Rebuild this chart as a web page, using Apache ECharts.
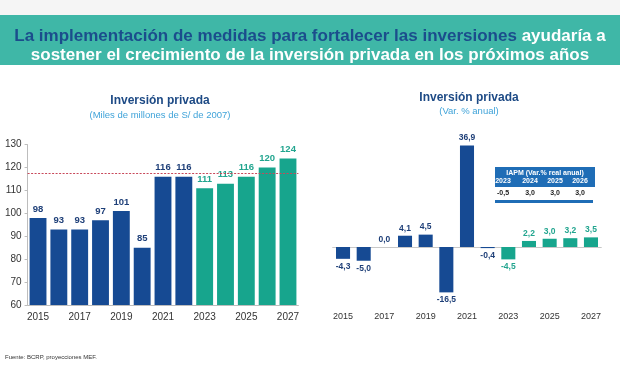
<!DOCTYPE html>
<html><head><meta charset="utf-8">
<script src="https://cdn.jsdelivr.net/npm/echarts@6/dist/echarts.min.js"></script>
<style>html,body{margin:0;padding:0;background:#fff}#c{width:620px;height:365px}</style>
</head><body><div id="c"></div>
<script>
// ---- data ----
const years = ['2015','2016','2017','2018','2019','2020','2021','2022','2023','2024','2025','2026','2027'];
const levelValues = [98, 93, 93, 97, 101, 85, 116, 116, 111, 113, 116, 120, 124];
const growthValues = [-4.3, -5.0, 0.0, 4.1, 4.5, -16.5, 36.9, -0.4, -4.5, 2.2, 3.0, 3.2, 3.5];
const referenceLevel = 117.5;
const firstProjectionYear = '2023';
const iapmYears = ['2023', '2024', '2025', '2026'];
const iapmValues = ['-0,5', '3,0', '3,0', '3,0'];

// ---- styles ----
const BLUE = '#164a93', TEAL = '#17a58d', BLUE_LBL = '#1e3f78', TEAL_LBL = '#22a58f';
const FONT = 'Liberation Sans, Arial, sans-serif';
const isProj = y => y >= firstProjectionYear;

const levelData = years.map((y, i) => ({
  value: levelValues[i],
  itemStyle: { color: isProj(y) ? TEAL : BLUE },
  label: { color: isProj(y) ? TEAL_LBL : BLUE_LBL }
}));
const growthData = years.map((y, i) => ({
  value: growthValues[i],
  itemStyle: { color: isProj(y) ? TEAL : BLUE },
  label: { color: isProj(y) ? TEAL_LBL : BLUE_LBL, position: growthValues[i] < 0 ? 'bottom' : 'top' }
}));
const fmtComma = p => Number(p.value).toFixed(1).replace('.', ',');

// table graphic
const tblX = 495, tblW = 100, colX = [503, 530, 555, 580];
const tableEls = [
  { type: 'rect', shape: { x: tblX, y: 167, width: tblW, height: 20 }, style: { fill: '#1f6db6' } },
  { type: 'rect', shape: { x: tblX, y: 200, width: tblW - 2, height: 3 }, style: { fill: '#1f6db6' } },
  { type: 'text', x: tblX + tblW / 2, y: 173, style: { text: 'IAPM (Var.% real anual)', fill: '#fff', font: 'bold 7px ' + FONT, align: 'center', verticalAlign: 'middle' } }
];
iapmYears.forEach((y, i) => tableEls.push({ type: 'text', x: colX[i], y: 181.5, style: { text: y, fill: '#fff', font: 'bold 7px ' + FONT, align: 'center', verticalAlign: 'middle' } }));
iapmValues.forEach((v, i) => tableEls.push({ type: 'text', x: colX[i], y: 193, style: { text: v, fill: '#222', font: 'bold 7px ' + FONT, align: 'center', verticalAlign: 'middle' } }));

const chart = echarts.init(document.getElementById('c'), null, { renderer: 'canvas' });
chart.setOption({
  backgroundColor: '#fff',
  animation: false,
  textStyle: { fontFamily: FONT },
  graphic: [
    { type: 'rect', z: -10, shape: { x: 0, y: 0, width: 620, height: 15 }, style: { fill: '#f5f5f5' } },
    { type: 'rect', z: -10, shape: { x: 0, y: 15, width: 620, height: 50 }, style: { fill: '#3fb7a7' } },
    { type: 'text', x: 5, y: 357, style: { text: 'Fuente: BCRP, proyecciones MEF.', fill: '#333', font: '6px ' + FONT, verticalAlign: 'middle' } }
  ].concat(tableEls),
  title: [
    {
      left: 'center', top: 22,
      text: '{a|La implementación de medidas para fortalecer las inversiones }{b|ayudaría a}\n{b|sostener el crecimiento de la inversión privada en los próximos años}',
      textStyle: {
        lineHeight: 19,
        rich: {
          a: { fontSize: 17, fontWeight: 'bold', color: '#1b4d8c', fontFamily: FONT, lineHeight: 19 },
          b: { fontSize: 17, fontWeight: 'bold', color: '#ffffff', fontFamily: FONT, lineHeight: 19 }
        }
      }
    },
    {
      left: 155, top: 90, textAlign: 'center', itemGap: 3,
      text: 'Inversión privada', subtext: '(Miles de millones de S/ de 2007)',
      textStyle: { fontSize: 12, fontWeight: 'bold', color: '#1d4a85', fontFamily: FONT },
      subtextStyle: { fontSize: 9.5, color: '#3fa3d9', fontFamily: FONT }
    },
    {
      left: 464, top: 87, textAlign: 'center', itemGap: 2,
      text: 'Inversión privada', subtext: '(Var. % anual)',
      textStyle: { fontSize: 12, fontWeight: 'bold', color: '#1d4a85', fontFamily: FONT },
      subtextStyle: { fontSize: 9.5, color: '#3fa3d9', fontFamily: FONT }
    }
  ],
  grid: [
    { left: 27.6, right: 321.6, top: 144.7, bottom: 60, containLabel: false },
    { left: 332.7, right: 18.7, top: 137, bottom: 63, containLabel: false }
  ],
  xAxis: [
    {
      gridIndex: 0, type: 'category', data: years,
      axisLine: { lineStyle: { color: '#bdbdbd' } },
      axisTick: { interval: 1, length: 3, lineStyle: { color: '#bdbdbd' } },
      axisLabel: { interval: 1, color: '#333', fontSize: 10, margin: 7 }
    },
    {
      gridIndex: 1, type: 'category', data: years, position: 'bottom',
      axisLine: { show: false, onZero: false }, axisTick: { show: false },
      axisLabel: { interval: 1, color: '#333', fontSize: 9, margin: 10 }
    },
    {
      gridIndex: 1, type: 'category', data: years, position: 'top',
      axisLine: { onZero: true, lineStyle: { color: '#c8c8c8' } },
      axisTick: { interval: 1, length: 3, inside: false, lineStyle: { color: '#c8c8c8' } },
      axisLabel: { show: false }
    }
  ],
  yAxis: [
    {
      gridIndex: 0, type: 'value', min: 60, max: 130, interval: 10,
      axisLine: { show: true, lineStyle: { color: '#bdbdbd' } },
      axisTick: { show: true, length: 3, lineStyle: { color: '#bdbdbd' } },
      splitLine: { show: false },
      axisLabel: { color: '#333', fontSize: 10, margin: 6 }
    },
    {
      gridIndex: 1, type: 'value', min: -20, max: 40,
      show: false, splitLine: { show: false }
    }
  ],
  series: [
    {
      type: 'bar', xAxisIndex: 0, yAxisIndex: 0, data: levelData,
      barCategoryGap: '19%',
      label: { show: true, position: 'top', distance: 4, fontSize: 9.5, fontWeight: 'bold', fontFamily: FONT },
      markLine: {
        silent: true, symbol: 'none', label: { show: false },
        lineStyle: { color: '#c8485a', type: [2, 1.5], width: 1 },
        data: [{ yAxis: referenceLevel }]
      }
    },
    {
      type: 'bar', xAxisIndex: 1, yAxisIndex: 1, data: growthData,
      barCategoryGap: '32%',
      label: { show: true, distance: 3, fontSize: 8.5, fontWeight: 'bold', fontFamily: FONT, formatter: fmtComma }
    }
  ]
});
</script></body></html>
